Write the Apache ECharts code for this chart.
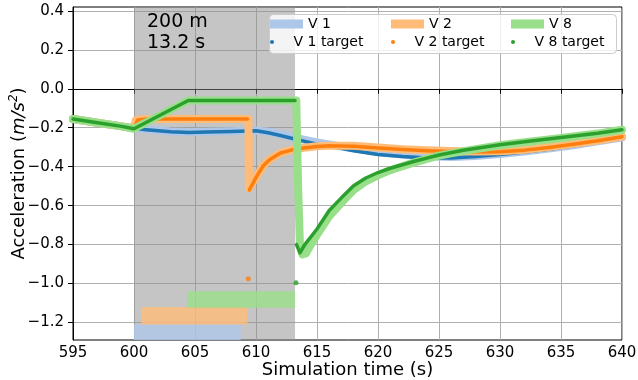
<!DOCTYPE html>
<html>
<head>
<meta charset="utf-8">
<script src="https://cdn.jsdelivr.net/npm/echarts@6/dist/echarts.min.js"></script>
<style>
  html, body { margin: 0; padding: 0; background: #fff; }
  #chart { width: 638px; height: 380px; }
</style>
</head>
<body>
<div id="chart"></div>
<script>
// ---------- data ----------
const xTicks = [595, 600, 605, 610, 615, 620, 625, 630, 635, 640];
const yTicks = [-1.2, -1.0, -0.8, -0.6, -0.4, -0.2, 0.0, 0.2, 0.4];

// highlighted window (distance / duration annotation)
const spanStart = 600.0;
const spanEnd = 613.2;
const spanLabel = ['200 m', '13.2 s'];

// state bars at the bottom
const barNames = ['V 1', 'V 2', 'V 8'];
const barStart = [600.0, 600.6, 604.4];
const barEnd = [608.75, 609.3, 613.2];
const barLow = [-1.29, -1.21, -1.125];
const barHigh = [-1.21, -1.12, -1.04];

// V 1
const tV1 = [595, 597, 599, 600, 601, 602, 603, 604.5, 606, 608, 610, 611, 612, 613, 614, 615, 616, 617, 618, 620, 622, 624, 626, 628, 630, 632, 634, 636, 638, 640];
const v1Actual = [-0.155, -0.174, -0.193, -0.203, -0.208, -0.214, -0.219, -0.222, -0.221, -0.218, -0.214, -0.22, -0.232, -0.248, -0.262, -0.275, -0.286, -0.296, -0.306, -0.325, -0.338, -0.347, -0.35, -0.345, -0.335, -0.322, -0.307, -0.29, -0.27, -0.25];
const v1Target = [-0.155, -0.174, -0.193, -0.203, -0.21, -0.216, -0.221, -0.224, -0.222, -0.219, -0.215, -0.226, -0.24, -0.255, -0.27, -0.285, -0.297, -0.306, -0.318, -0.337, -0.348, -0.356, -0.355, -0.348, -0.338, -0.325, -0.31, -0.292, -0.272, -0.25];

// V 2
const tV2 = [595, 597, 599, 600, 600.15, 601, 603, 605, 607, 609.38, 609.42, 609.55, 610.05, 610.6, 611.1, 612, 612.8, 613.9, 615, 616, 618, 620, 622, 624, 626, 628, 630, 632, 634, 636, 638, 640];
const v2Actual = [-0.155, -0.174, -0.193, -0.203, -0.16, -0.155, -0.155, -0.155, -0.155, -0.155, -0.51, -0.52, -0.45, -0.395, -0.364, -0.33, -0.315, -0.303, -0.295, -0.292, -0.293, -0.302, -0.31, -0.316, -0.32, -0.322, -0.321, -0.313, -0.299, -0.283, -0.266, -0.245];
const tV2TargetA = [595, 597, 599, 600, 600.3, 601, 603, 605, 607, 609.3];
const v2TargetA = [-0.155, -0.174, -0.193, -0.203, -0.16, -0.155, -0.155, -0.155, -0.155, -0.155];
const v2TargetDot = [609.37, -0.975];
const tV2TargetB = [609.45, 610.05, 610.6, 611.1, 612, 612.8, 613.9, 615, 616, 618, 620, 622, 624, 626, 628, 630, 632, 634, 636, 638, 640];
const v2TargetB = [-0.52, -0.45, -0.395, -0.364, -0.33, -0.316, -0.304, -0.296, -0.293, -0.295, -0.304, -0.312, -0.318, -0.322, -0.324, -0.323, -0.315, -0.301, -0.285, -0.267, -0.246];

// V 8
const tV8 = [595, 597, 599, 600, 604.45, 606, 608, 610, 612, 613.3, 613.45, 613.6, 613.8, 614.1, 614.5, 615, 616, 617, 618, 619, 620, 621, 622, 623, 624, 625, 627, 630, 632, 634, 636, 638, 640];
const v8Actual = [-0.155, -0.174, -0.193, -0.205, -0.06, -0.06, -0.06, -0.06, -0.06, -0.06, -0.5, -0.8, -0.85, -0.845, -0.8, -0.75, -0.655, -0.585, -0.52, -0.475, -0.445, -0.418, -0.398, -0.378, -0.36, -0.343, -0.32, -0.29, -0.275, -0.26, -0.245, -0.23, -0.21];
const tV8TargetA = [595, 597, 599, 600, 604.45, 613.2];
const v8TargetA = [-0.155, -0.174, -0.193, -0.205, -0.06, -0.06];
const v8TargetDot = [613.28, -0.996];
const tV8TargetB = [613.32, 613.6, 614, 615, 616, 617, 618, 619, 620, 621, 622, 623, 624, 625, 627, 630, 632, 635, 638, 640];
const v8TargetB = [-0.8, -0.843, -0.8, -0.72, -0.625, -0.56, -0.498, -0.458, -0.43, -0.408, -0.39, -0.372, -0.356, -0.34, -0.316, -0.287, -0.272, -0.25, -0.228, -0.21];

// ---------- styling ----------
const FONT = 'DejaVu Sans';
const dark = { 'V 1': '#1f77b4', 'V 2': '#ff7f0e', 'V 8': '#2ca02c' };
const light = { 'V 1': '#aec7e8', 'V 2': '#ffbb78', 'V 8': '#98df8a' };

function pairs(t, v) { return t.map((x, i) => [x, v[i]]); }
function gapJoin(tA, vA, tB, vB) {
  return pairs(tA, vA).concat([[tA[tA.length - 1], '-']]).concat(pairs(tB, vB));
}

function actualSeries(name, t, v) {
  return {
    name: name, type: 'line', data: pairs(t, v), showSymbol: false, symbol: 'none',
    lineStyle: { color: light[name], width: 8, cap: 'round', join: 'round' },
    itemStyle: { color: light[name] }, z: 2, silent: true
  };
}
function targetSeries(name, key, data) {
  return {
    name: name, type: 'line', data: data, showSymbol: false, symbol: 'none', connectNulls: false,
    lineStyle: { color: dark[key], width: 3.5, cap: 'round', join: 'round' },
    itemStyle: { color: dark[key] }, z: 2, silent: true
  };
}
function dotSeries(name, key, pt) {
  return {
    name: name, type: 'scatter', data: [pt], symbol: 'circle', symbolSize: 5,
    itemStyle: { color: dark[key] }, z: 2, silent: true
  };
}

const series = [];
// gray window
series.push({
  type: 'line', data: [], silent: true,
  markArea: {
    silent: true,
    itemStyle: { color: 'rgba(140,140,140,0.5)' },
    data: [[{ xAxis: spanStart, yAxis: -1.29 }, { xAxis: spanEnd, yAxis: 0.42 }]]
  }
});
// state bars
series.push({
  type: 'line', data: [], silent: true,
  markArea: {
    silent: true,
    data: barNames.map((n, i) => [
      { xAxis: barStart[i], yAxis: barLow[i], itemStyle: { color: light[n], opacity: 0.8 } },
      { xAxis: barEnd[i], yAxis: barHigh[i] }
    ])
  }
});

series.push(actualSeries('V 1', tV1, v1Actual));
series.push(targetSeries('V 1 target', 'V 1', pairs(tV1, v1Target)));
series.push(actualSeries('V 2', tV2, v2Actual));
series.push(targetSeries('V 2 target', 'V 2', gapJoin(tV2TargetA, v2TargetA, tV2TargetB, v2TargetB)));
series.push(dotSeries('V 2 target', 'V 2', v2TargetDot));
series.push(actualSeries('V 8', tV8, v8Actual));
series.push(targetSeries('V 8 target', 'V 8', gapJoin(tV8TargetA, v8TargetA, tV8TargetB, v8TargetB)));
series.push(dotSeries('V 8 target', 'V 8', v8TargetDot));

// legend: 3 columns x 2 rows
const colX = [270, 391, 511];
const legends = [];
['V 1', 'V 2', 'V 8'].forEach((n, i) => {
  legends.push({
    data: [{ name: n, icon: 'rect' }], left: colX[i], top: 16, padding: 0,
    itemWidth: 33, itemHeight: 9, itemStyle: { borderWidth: 0 },
    textStyle: { fontSize: 14, fontFamily: FONT, color: '#000', lineHeight: 16 },
    selectedMode: false, z: 10
  });
  legends.push({
    data: [{ name: n + ' target', icon: 'circle' }], left: colX[i], top: 34, padding: 0,
    itemWidth: 33, itemHeight: 4, itemStyle: { borderWidth: 0 },
    textStyle: { fontSize: 14, fontFamily: FONT, color: '#000', lineHeight: 16 },
    selectedMode: false, z: 10
  });
});

const fmt = v => (v < 0 ? '\u2212' : '') + Math.abs(v).toFixed(1);

const option = {
  animation: false,
  backgroundColor: '#fff',
  textStyle: { fontFamily: FONT },
  grid: { left: 73, right: 16, top: 7, bottom: 40, containLabel: false, outerBoundsMode: 'none', show: true, borderColor: '#000', borderWidth: 1, backgroundColor: 'transparent' },
  xAxis: {
    type: 'value', min: 595, max: 640, interval: 5,
    axisLine: { lineStyle: { color: '#000', width: 1 } },
    axisTick: { length: 5, lineStyle: { color: '#000', width: 1 } },
    axisLabel: { fontSize: 15, color: '#000', margin: 6, fontFamily: FONT, customValues: xTicks },
    splitLine: { show: true, lineStyle: { color: '#b0b0b0', width: 1 } },
    name: 'Simulation time (s)', nameLocation: 'middle', nameGap: 21, nameMoveOverlap: false,
    nameTextStyle: { fontSize: 18, color: '#000', fontFamily: FONT }
  },
  yAxis: {
    type: 'value', min: -1.29, max: 0.42,
    axisLine: { show: true, lineStyle: { color: '#000', width: 1 } },
    axisTick: { show: true, length: 5, lineStyle: { color: '#000', width: 1 }, customValues: yTicks },
    axisLabel: { fontSize: 15, color: '#000', margin: 9, fontFamily: FONT, customValues: yTicks, formatter: fmt },
    splitLine: { show: true, lineStyle: { color: '#b0b0b0', width: 1 } },
    name: '{a|Acceleration (}{i|m/s}{s|2}{a|)}', nameLocation: 'middle', nameGap: 43, nameMoveOverlap: false,
    nameTextStyle: {
      color: '#000', fontFamily: FONT, fontSize: 18, lineHeight: 22,
      rich: {
        a: { fontSize: 18, fontFamily: FONT, color: '#000', lineHeight: 22 },
        i: { fontSize: 18, fontFamily: FONT, fontStyle: 'italic', color: '#000', lineHeight: 22 },
        s: { fontSize: 12, fontFamily: FONT, fontStyle: 'italic', color: '#000', verticalAlign: 'top', lineHeight: 22 }
      }
    }
  },
  legend: legends,
  graphic: [
    {
      type: 'rect', left: 269, top: 14, z: 9, silent: true,
      shape: { width: 347, height: 39, r: 4 },
      style: { fill: 'rgba(255,255,255,0.8)', stroke: '#cccccc', lineWidth: 1 }
    },
    {
      type: 'text', left: 147, top: 12, z: 9, silent: true,
      style: { text: spanLabel.join('\n'), font: '19px "DejaVu Sans"', fill: '#000', lineHeight: 21 }
    }
  ],
  series: series
};

const chart = echarts.init(document.getElementById('chart'), null, { renderer: 'canvas' });
chart.setOption(option);
</script>
</body>
</html>
